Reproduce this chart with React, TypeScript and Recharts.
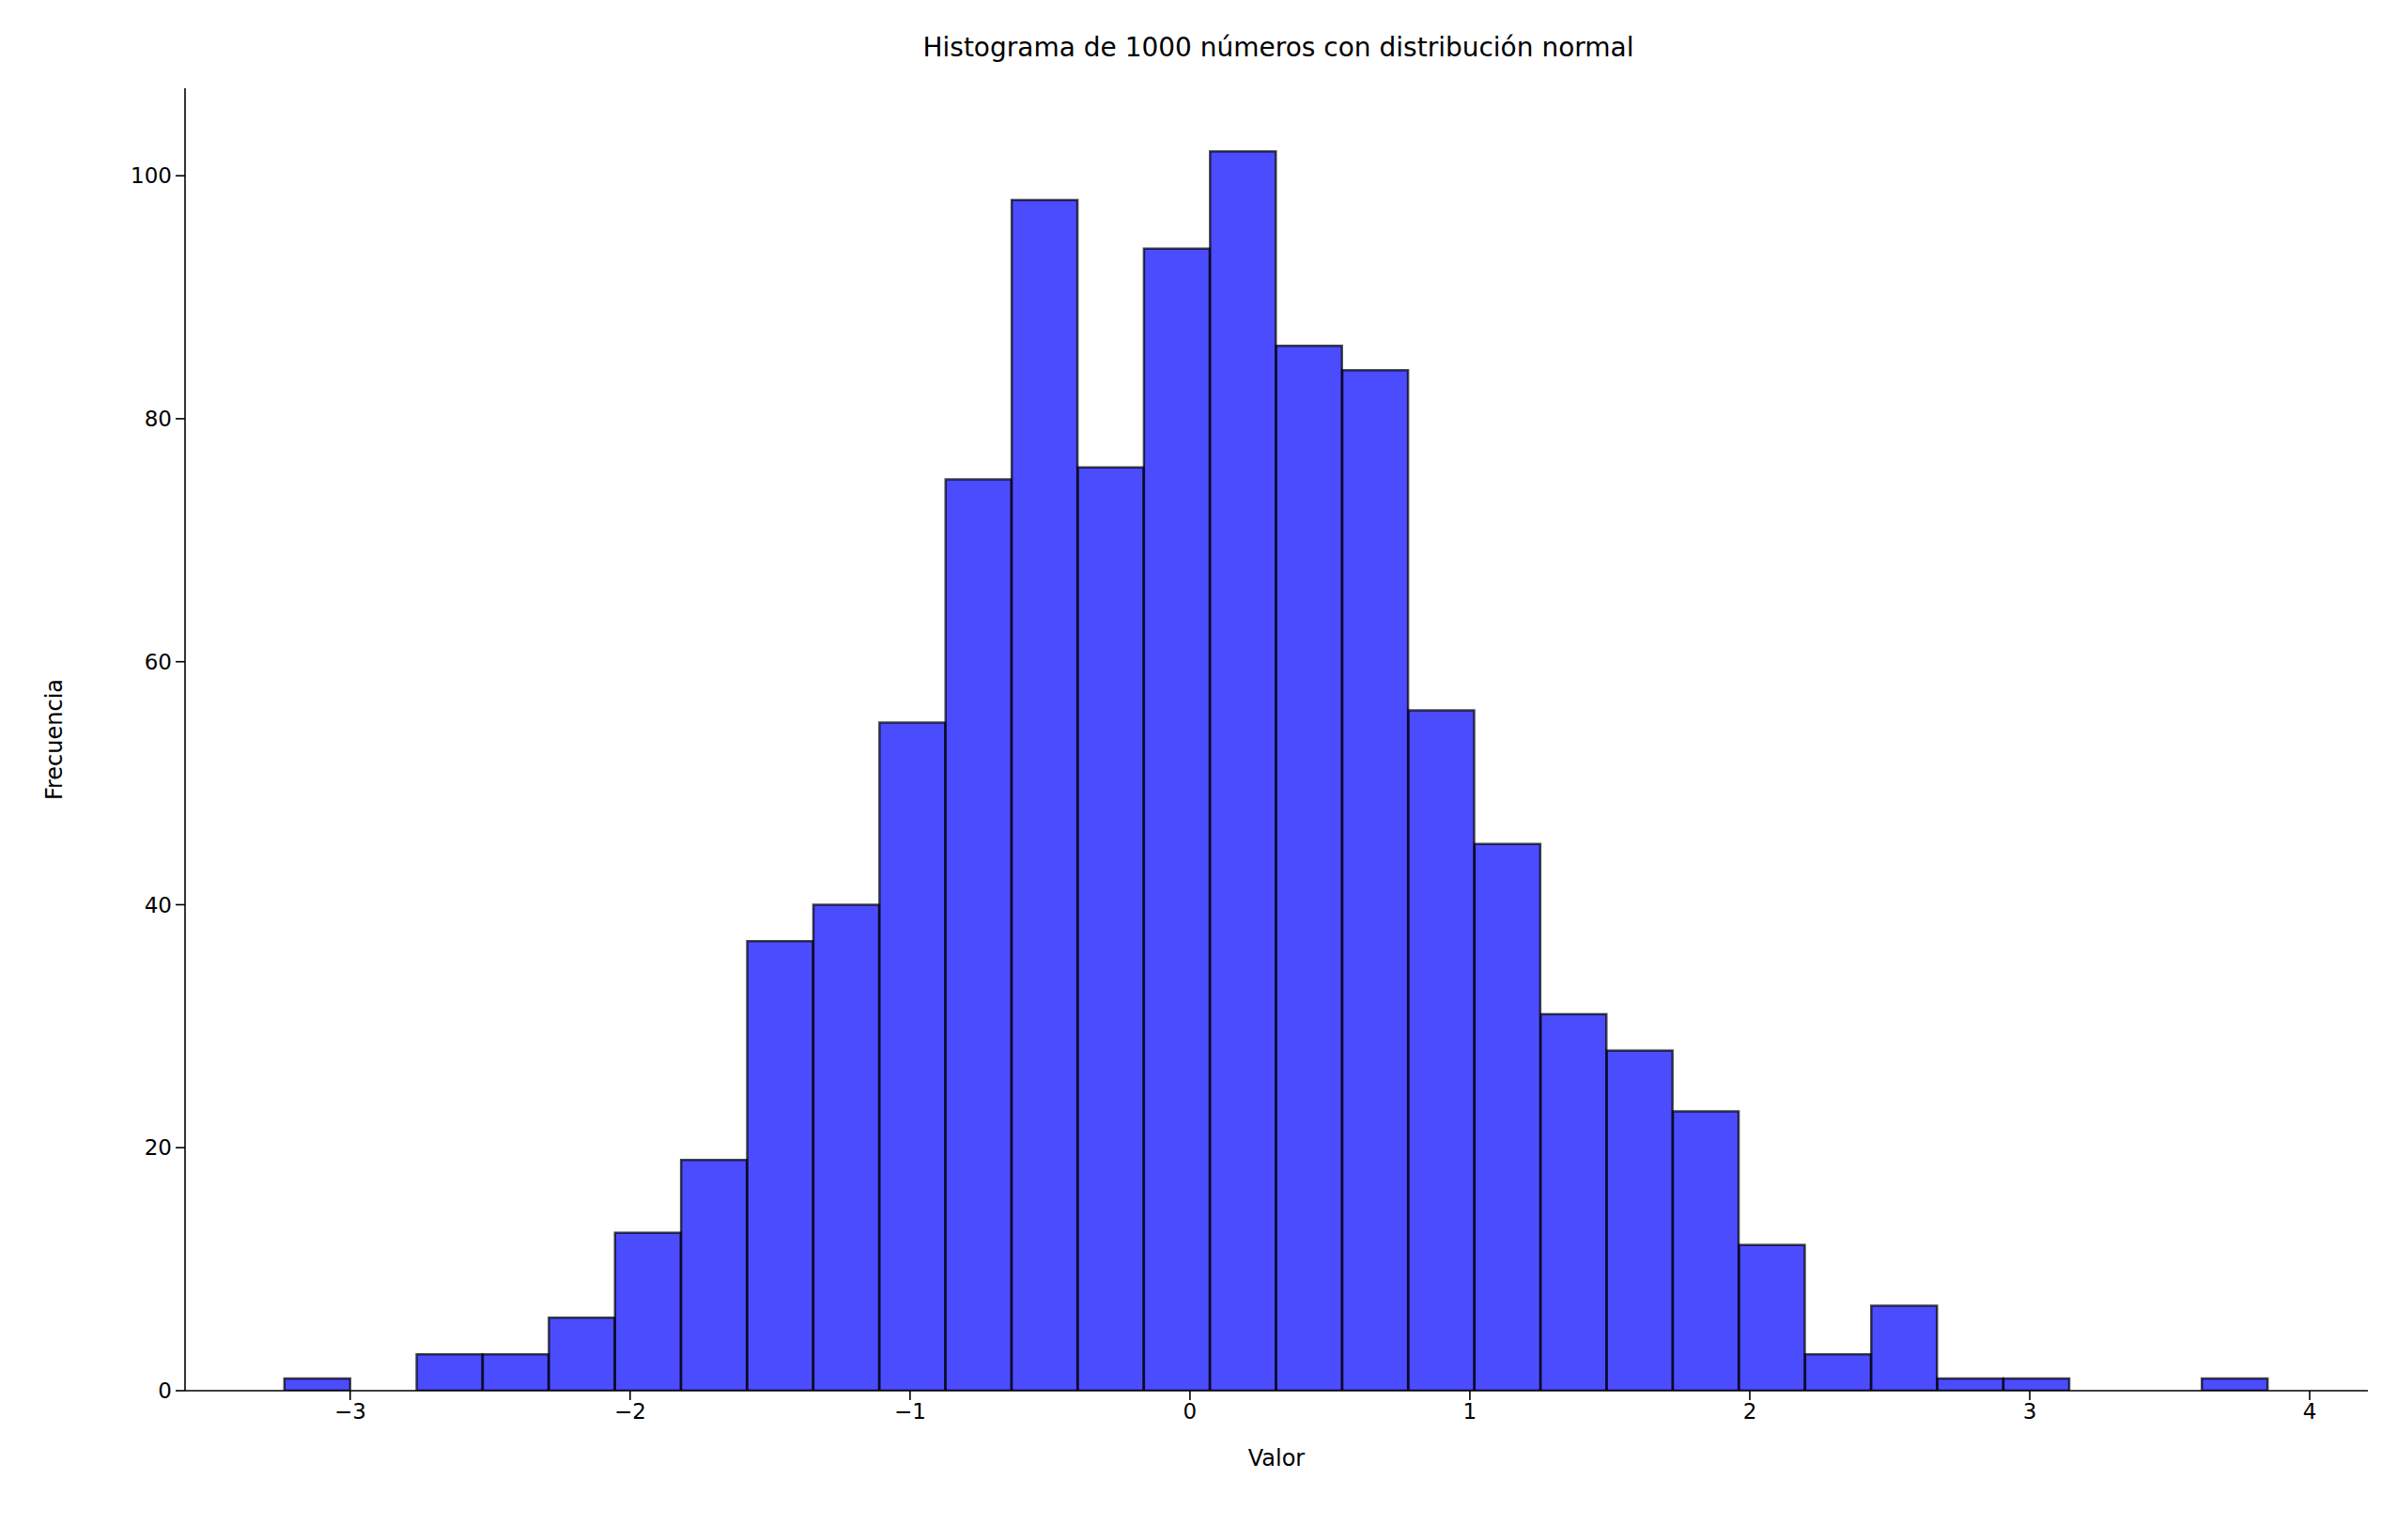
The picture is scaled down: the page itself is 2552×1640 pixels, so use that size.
import React from "react";
import { Bar, BarChart, XAxis, YAxis, Label } from "recharts";

const binStart = -3.235;
const binWidth = 0.2362;
const counts = [1, 0, 3, 3, 6, 13, 19, 37, 40, 55, 75, 98, 76, 94, 102, 86, 84, 56, 45, 31, 28, 23, 12, 3, 7, 1, 1, 0, 0, 1];
const xTicks = [-3, -2, -1, 0, 1, 2, 3, 4];
const yTicks = [0, 20, 40, 60, 80, 100];

const data = counts.map((c, i) => ({ x: binStart + binWidth * (i + 0.5), count: c }));

const fmt = (v: number) => (v < 0 ? "\u2212" + Math.abs(v) : String(v));
const tickStyle = { fontSize: 23, fill: "#000", fontFamily: "DejaVu Sans" };

export default function App() {
  if (typeof document !== "undefined") document.body.style.margin = "0";
  return (
    <div style={{ width: 2552, height: 1640, background: "#fff", position: "relative", fontFamily: "DejaVu Sans" }}>
      <div style={{ position: "absolute", top: 34, width: 2552, textAlign: "center", fontSize: 28, paddingLeft: 170, boxSizing: "border-box" }}>
        Histograma de 1000 números con distribución normal
      </div>
      <BarChart width={2552} height={1640} data={data} margin={{ top: 94, right: 31, bottom: 79, left: 97 }} barCategoryGap={0} barGap={0}>
        <XAxis dataKey="x" type="number" domain={[-3.59, 4.208]} ticks={xTicks} tickFormatter={fmt} allowDataOverflow
          height={80} stroke="#000" tickSize={10} tick={tickStyle} tickMargin={4} strokeWidth={1.6}>
          <Label value="Valor" position="insideBottom" offset={0} style={{ fontSize: 24, fill: "#000" }} />
        </XAxis>
        <XAxis xAxisId="top" orientation="top" type="number" domain={[0, 1]} tick={false} tickLine={false} height={0} stroke="#000" strokeWidth={1.6} />
        <YAxis domain={[0, 107.2]} ticks={yTicks} width={100} stroke="#000" tickSize={10} tick={tickStyle} tickMargin={4} strokeWidth={1.6} allowDataOverflow>
          <Label value="Frecuencia" angle={-90} position="insideLeft" offset={-40} style={{ fontSize: 24, fill: "#000", textAnchor: "middle" }} />
        </YAxis>
        <YAxis yAxisId="right" orientation="right" tick={false} tickLine={false} width={0} stroke="#000" strokeWidth={1.6} />
        <Bar dataKey="count" fill="rgba(0,0,255,0.7)" stroke="rgba(0,0,0,0.7)" strokeWidth={2.5} isAnimationActive={false} />
      </BarChart>
    </div>
  );
}
